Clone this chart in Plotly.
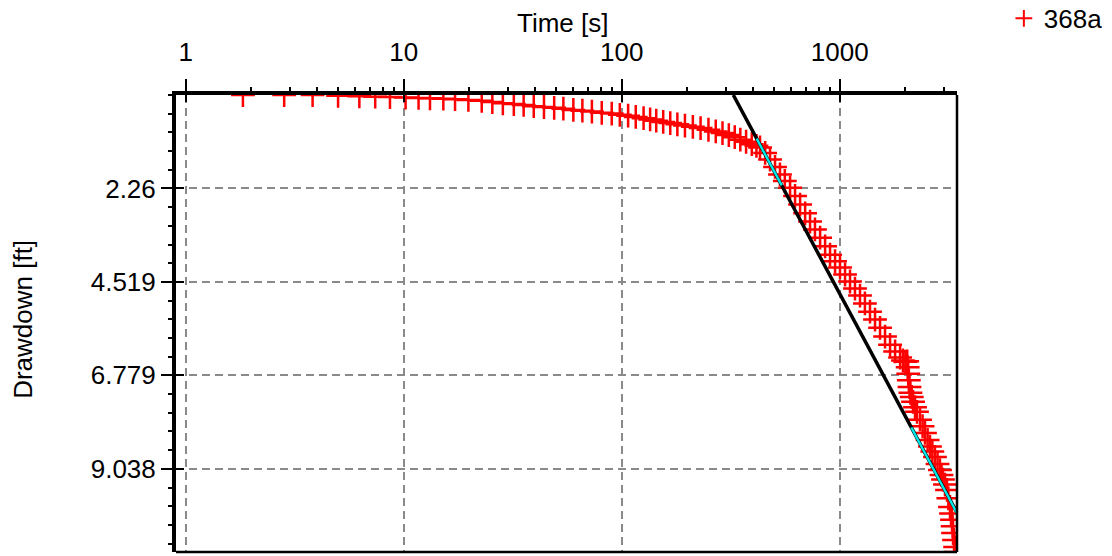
import plotly.graph_objects as go

# ---------------- data ----------------
time_s = [
    1.83, 2.83, 3.82, 5.0, 6.26, 7.4, 8.65, 10.2, 11.7, 13.2, 15.2, 17.2, 19.8, 22.8,
    25.5, 28.5, 32, 35.5, 39.5, 44, 49, 54, 60, 66, 73, 81, 90, 98,
    107, 116, 126, 135, 144, 155, 167, 180, 195, 212, 230, 250, 270, 290, 310, 330,
    350, 372, 395, 415, 431, 455, 479, 505, 532, 560, 592, 624, 658, 694,
    731, 770, 813, 857, 903, 952, 1003, 1058, 1115, 1175, 1239, 1305, 1377, 1452,
    1531, 1614, 1702, 1795, 1892, 1950, 2000, 2040, 2050, 2062, 2075, 2090, 2110, 2140,
    2170, 2215, 2262, 2335, 2400, 2461, 2530, 2594, 2660, 2734, 2810, 2883,
    2930, 2977, 3040, 3105, 3150, 3206, 3240, 3274, 3295, 3310, 3345, 3383, 3410,
]
drawdown_ft = [
    0.0, 0.0, 0.0, 0.02, 0.03, 0.04, 0.05, 0.06, 0.07, 0.08, 0.09, 0.10, 0.12, 0.14,
    0.17, 0.20, 0.22, 0.24, 0.27, 0.29, 0.31, 0.33, 0.36, 0.38, 0.40, 0.43, 0.45, 0.48,
    0.50, 0.53, 0.56, 0.59, 0.62, 0.65, 0.68, 0.71, 0.74, 0.77, 0.80, 0.84, 0.88, 0.92, 0.97, 1.02,
    1.08, 1.13, 1.19, 1.23, 1.27, 1.40, 1.56, 1.74, 1.92, 2.08, 2.24, 2.44, 2.65, 2.86,
    3.06, 3.25, 3.45, 3.66, 3.86, 4.02, 4.17, 4.34, 4.51, 4.68, 4.85, 5.04, 5.24, 5.43,
    5.63, 5.84, 6.04, 6.20, 6.35, 6.42, 6.45, 6.44, 6.58, 6.74, 6.90, 7.06, 7.20, 7.30,
    7.42, 7.55, 7.66, 7.85, 8.01, 8.17, 8.34, 8.50, 8.62, 8.75, 8.92, 9.07,
    9.19, 9.30, 9.42, 9.55, 9.75, 9.96, 10.12, 10.27, 10.43, 10.59, 10.76, 10.93, 11.05,
]

# straight-line (Cooper-Jacob) fit and the two matched ranges (cyan)
fit_time = [325, 3451]
fit_drawdown = [0.0, 10.10]
match1_time = [416, 542]
match1_drawdown = [1.055, 2.187]
match2_time = [2130, 3443]
match2_drawdown = [8.04, 10.10]

series_name = "368a"
x_title = "Time [s]"
y_title = "Drawdown [ft]"
x_tick_vals = [1, 10, 100, 1000]
x_tick_text = ["1", "10", "100", "1000"]
x_minor_vals = [2, 3, 4, 5, 6, 7, 8, 9, 20, 30, 40, 50, 60, 70, 80, 90,
                200, 300, 400, 500, 600, 700, 800, 900, 2000, 3000]
y_tick_vals = [2.26, 4.519, 6.779, 9.038]
y_tick_text = ["2.26", "4.519", "6.779", "9.038"]

X_RANGE = [-0.0445, 3.538]
Y_RANGE = [11.05, 0.0]

# ---------------- figure ----------------
FONT = "Liberation Sans, Arial, sans-serif"
TXT = dict(size=26, family=FONT, color="#000")
fig = go.Figure()

fig.add_trace(go.Scatter(
    x=time_s, y=drawdown_ft, mode="markers", name=series_name,
    marker=dict(symbol="cross-thin", size=17, color="#ff0000",
                line=dict(color="#ff0000", width=2.5)),
))
fig.add_trace(go.Scatter(
    x=fit_time, y=fit_drawdown, mode="lines", showlegend=False,
    line=dict(color="#000000", width=3.5),
))
for tx, ty in ((match1_time, match1_drawdown), (match2_time, match2_drawdown)):
    fig.add_trace(go.Scatter(
        x=tx, y=ty, mode="lines", showlegend=False,
        line=dict(color="#00e5e5", width=2.5),
    ))

grid = dict(showgrid=True, gridcolor="#8a8a8a", gridwidth=2, griddash="8px,5px")

fig.update_xaxes(
    type="log", side="top", range=X_RANGE, automargin=False,
    tickmode="array", tickvals=x_tick_vals, ticktext=x_tick_text,
    ticks="outside", ticklen=12, tickwidth=2, tickcolor="#000",
    ticklabelstandoff=8,
    minor=dict(tickmode="array", tickvals=x_minor_vals, ticks="outside",
               ticklen=4, tickwidth=1.5, tickcolor="#000", showgrid=False),
    showline=True, linecolor="#000", linewidth=4, zeroline=False,
    tickfont=TXT, **grid,
)
fig.update_yaxes(
    range=Y_RANGE, automargin=False,
    tickmode="array", tickvals=y_tick_vals, ticktext=y_tick_text,
    ticks="outside", ticklen=11, tickwidth=2, tickcolor="#000",
    ticklabelstandoff=0,
    minor=dict(dtick=0.45192, tick0=0, ticks="outside", ticklen=4,
               tickwidth=1.5, tickcolor="#000", showgrid=False),
    showline=True, linecolor="#000", linewidth=4, zeroline=False,
    tickfont=TXT, **grid,
)

# overlay axes carrying the inner part of the major ticks
fig.update_layout(
    xaxis2=dict(type="log", range=X_RANGE, overlaying="x", side="top",
                tickmode="array", tickvals=x_tick_vals, showticklabels=False,
                ticks="inside", ticklen=7, tickwidth=2, tickcolor="#000",
                showgrid=False, zeroline=False, showline=False, automargin=False),
    yaxis2=dict(range=Y_RANGE, overlaying="y", side="left",
                tickmode="array", tickvals=y_tick_vals, showticklabels=False,
                ticks="inside", ticklen=8, tickwidth=2, tickcolor="#000",
                showgrid=False, zeroline=False, showline=False, automargin=False),
)
fig.add_trace(go.Scatter(x=[x_tick_vals[0]], y=[y_tick_vals[0]], xaxis="x2", yaxis="y2",
                         mode="markers", marker=dict(opacity=0), showlegend=False,
                         hoverinfo="skip"))

# right and bottom frame lines (thinner)
fig.add_shape(type="line", xref="paper", yref="paper", x0=1, x1=1, y0=0, y1=1,
              line=dict(color="#000", width=2.5))
fig.add_shape(type="line", xref="paper", yref="paper", x0=0, x1=1, y0=0, y1=0,
              line=dict(color="#000", width=2.5))

# axis titles
fig.add_annotation(text=x_title, xref="paper", yref="paper", x=0.4955, y=1.1586,
                   xanchor="center", yanchor="middle", showarrow=False, font=TXT)
fig.add_annotation(text=y_title, xref="paper", yref="paper", x=-0.196, y=0.51,
                   xanchor="center", yanchor="middle", textangle=-90,
                   showarrow=False, font=TXT)

fig.update_layout(
    width=1112, height=556,
    margin=dict(l=176, r=155, t=95, b=4, autoexpand=False),
    paper_bgcolor="#ffffff", plot_bgcolor="#ffffff",
    font=TXT,
    showlegend=True,
    legend=dict(x=1.06, y=1.219, xanchor="left", yanchor="top",
                bgcolor="rgba(0,0,0,0)", itemsizing="constant", font=TXT),
)

# remove the default 8px page margin so the figure fills the window
fig.write_html("out.html", config={"displayModeBar": False},
               post_script="document.body.style.margin='0px';")
